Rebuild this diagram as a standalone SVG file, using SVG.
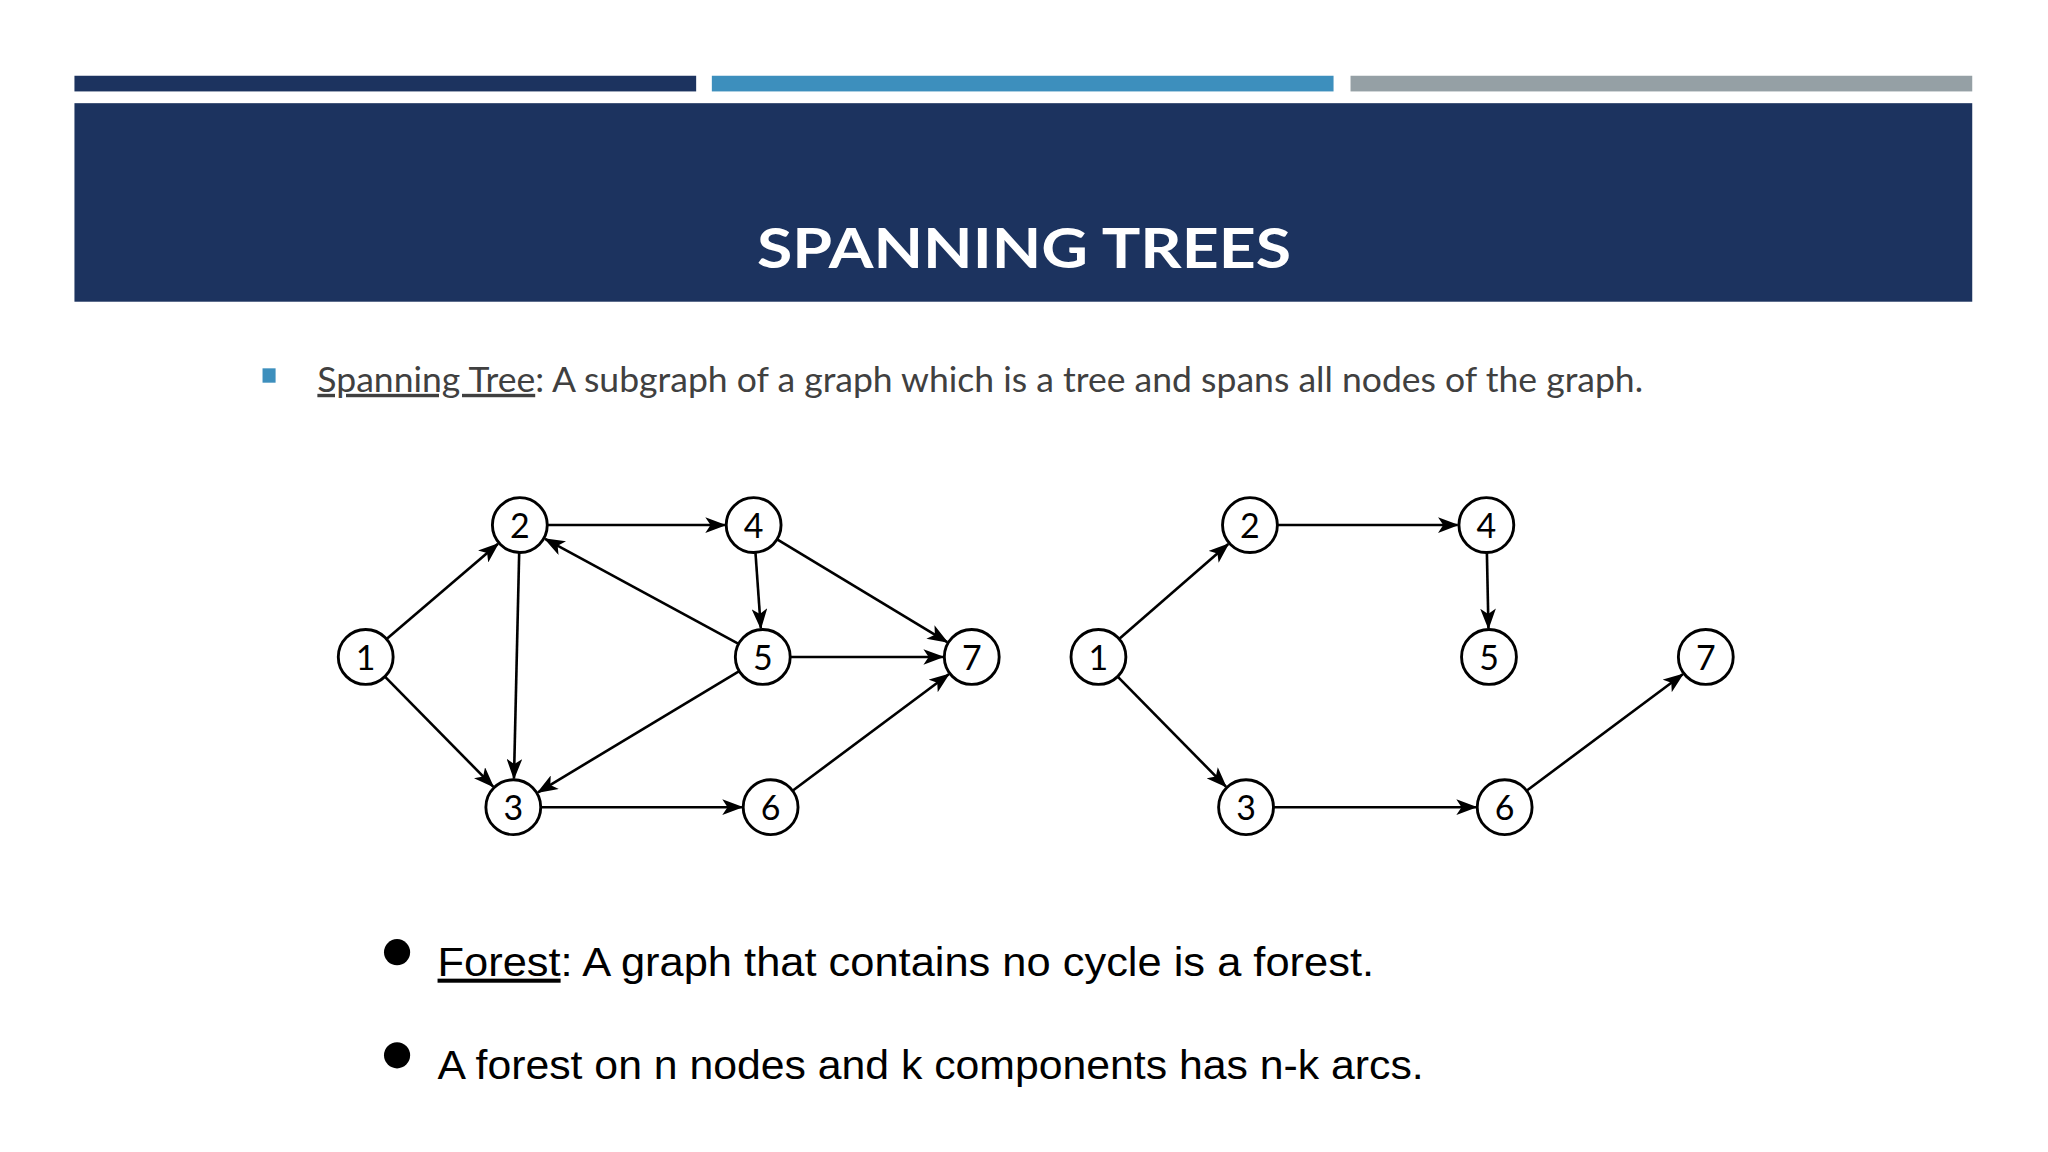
<svg xmlns="http://www.w3.org/2000/svg" width="2048" height="1152" viewBox="0 0 2048 1152">
<defs>
<marker id="ah" markerUnits="userSpaceOnUse" markerWidth="16" markerHeight="12" viewBox="0 0 16 12" refX="15" refY="6" orient="auto">
<path d="M0,0 L16,6 L0,12 L4,6 Z" fill="#000"/>
</marker>
<style>
.e{stroke:#000;stroke-width:2;fill:none;marker-end:url(#ah)}
.n circle{fill:#fff;stroke:#000;stroke-width:2.2}
.n text{font-family:"Lato","Open Sans",sans-serif;font-size:26px;text-anchor:middle;fill:#000}
.b{font-family:"Liberation Sans",Arial,sans-serif;font-size:31px;fill:#000}
</style>
</defs>
<rect width="2048" height="1152" fill="#fff"/>
<g transform="scale(1.30612)">
<rect x="57" y="58" width="476" height="12" fill="#1c335f"/>
<rect x="545" y="58" width="476" height="12" fill="#3d8fbd"/>
<rect x="1034" y="58" width="476" height="12" fill="#95a0a5"/>
<rect x="57" y="79" width="1453" height="152" fill="#1c335f"/>
<text x="784" y="205" text-anchor="middle" font-family="Lato,'Open Sans',sans-serif" font-weight="bold" font-size="43" fill="#fff" textLength="409" lengthAdjust="spacingAndGlyphs">SPANNING TREES</text>
<rect x="201" y="282" width="10" height="11" fill="#3d8fbd"/>
<text x="243" y="300" font-family="Lato,'Open Sans',sans-serif" font-size="26" fill="#404040" textLength="1015" lengthAdjust="spacingAndGlyphs"><tspan text-decoration="underline">Spanning Tree</tspan>:  A subgraph of a graph which is a tree and spans all nodes of the graph.</text>
<g id="connectors">
<line class="e" x1="296" y1="489.3" x2="381.3" y2="416.3"/>
<line class="e" x1="294.7" y1="518" x2="377.6" y2="602.3"/>
<line class="e" x1="419" y1="402" x2="555" y2="402"/>
<line class="e" x1="397.5" y1="423" x2="393.5" y2="596"/>
<line class="e" x1="578.4" y1="423" x2="582.5" y2="481"/>
<line class="e" x1="595" y1="412.9" x2="725.2" y2="491.6"/>
<line class="e" x1="565.5" y1="493" x2="417.3" y2="412.5"/>
<line class="e" x1="605" y1="503" x2="722" y2="503"/>
<line class="e" x1="566" y1="513.8" x2="411.9" y2="606.6"/>
<line class="e" x1="414" y1="618" x2="568" y2="618"/>
<line class="e" x1="606.8" y1="605.4" x2="726.4" y2="516.2"/>
<line class="e" x1="856.8" y1="489.2" x2="940.4" y2="416.5"/>
<line class="e" x1="855.7" y1="518" x2="938.6" y2="602.3"/>
<line class="e" x1="978" y1="402" x2="1116" y2="402"/>
<line class="e" x1="1138.4" y1="423" x2="1139.6" y2="481"/>
<line class="e" x1="975" y1="618" x2="1130" y2="618"/>
<line class="e" x1="1168.8" y1="605.4" x2="1288.4" y2="516.2"/>
</g>
<g id="L1" class="n"><circle cx="280" cy="503" r="21"/><text x="280" y="513">1</text></g>
<g id="L2" class="n"><circle cx="398" cy="402" r="21"/><text x="398" y="412">2</text></g>
<g id="L4" class="n"><circle cx="577" cy="402" r="21"/><text x="577" y="412">4</text></g>
<g id="L5" class="n"><circle cx="584" cy="503" r="21"/><text x="584" y="513">5</text></g>
<g id="L7" class="n"><circle cx="744" cy="503" r="21"/><text x="744" y="513">7</text></g>
<g id="L3" class="n"><circle cx="393" cy="618" r="21"/><text x="393" y="628">3</text></g>
<g id="L6" class="n"><circle cx="590" cy="618" r="21"/><text x="590" y="628">6</text></g>
<g id="R1" class="n"><circle cx="841" cy="503" r="21"/><text x="841" y="513">1</text></g>
<g id="R2" class="n"><circle cx="957" cy="402" r="21"/><text x="957" y="412">2</text></g>
<g id="R4" class="n"><circle cx="1138" cy="402" r="21"/><text x="1138" y="412">4</text></g>
<g id="R5" class="n"><circle cx="1140" cy="503" r="21"/><text x="1140" y="513">5</text></g>
<g id="R7" class="n"><circle cx="1306" cy="503" r="21"/><text x="1306" y="513">7</text></g>
<g id="R3" class="n"><circle cx="954" cy="618" r="21"/><text x="954" y="628">3</text></g>
<g id="R6" class="n"><circle cx="1152" cy="618" r="21"/><text x="1152" y="628">6</text></g>
<circle cx="304" cy="729" r="10" fill="#000"/>
<circle cx="304" cy="808" r="10" fill="#000"/>
<text class="b" x="335" y="747" textLength="717" lengthAdjust="spacingAndGlyphs"><tspan text-decoration="underline">Forest</tspan>:  A graph that contains no cycle is a forest.</text>
<text class="b" x="335" y="826" textLength="755" lengthAdjust="spacingAndGlyphs">A forest on n nodes and k components has n-k arcs.</text>
</g>
</svg>
